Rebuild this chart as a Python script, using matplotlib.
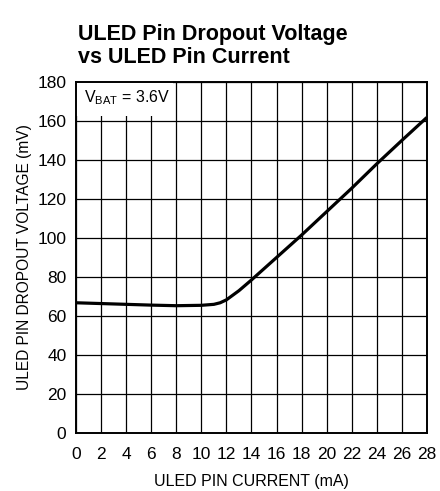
import matplotlib
matplotlib.use("Agg")
import matplotlib.pyplot as plt
from matplotlib.patches import Rectangle

plt.rcParams['font.family'] = ['Liberation Sans Narrow', 'Liberation Sans', 'DejaVu Sans']

# data
current = [0, 2, 4, 6, 8, 10, 11, 11.5, 12, 13, 14, 16, 18, 20, 22, 24, 26, 28]
dropout = [66.8, 66.4, 66.0, 65.6, 65.3, 65.5, 66.0, 66.8, 68.3, 73.0, 78.5, 90, 101.5, 113.5, 125.5, 138, 150, 161.8]
xticks = list(range(0, 29, 2))
yticks = list(range(0, 181, 20))

fig = plt.figure(figsize=(4.4, 4.91), dpi=100)
ax = fig.add_axes([0.173, 0.118, 0.797, 0.715])

ax.plot(current, dropout, color='black', lw=2.3, zorder=4, solid_capstyle='butt')
ax.set_xlim(0, 28)
ax.set_ylim(0, 180)
ax.set_xticks(xticks)
ax.set_yticks(yticks)
ax.grid(True, color='black', lw=0.9)
ax.set_axisbelow(True)
for s in ax.spines.values():
    s.set_linewidth(1.4)
ax.tick_params(length=0, labelsize=12.5)
ax.tick_params(axis='x', pad=10)
ax.tick_params(axis='y', pad=7)

# white label box in the top-left corner
ax.add_patch(Rectangle((0, 162.5), 7.7, 17.5, facecolor='white', edgecolor='none', zorder=2))
ax.text(0.65, 172, r'V$_\mathregular{BAT}$ = 3.6V', fontsize=11.5, va='center', ha='left', zorder=3)

ax.set_xlabel('ULED PIN CURRENT (mA)', fontsize=11.5, labelpad=9)
ax.set_ylabel('ULED PIN DROPOUT VOLTAGE (mV)', fontsize=11.2, labelpad=4)

fig.text(0.177, 0.8615, 'ULED Pin Dropout Voltage\nvs ULED Pin Current', fontsize=15.5,
         fontweight='bold', ha='left', va='bottom', linespacing=1.15)

fig.savefig('out.png', dpi=100)
